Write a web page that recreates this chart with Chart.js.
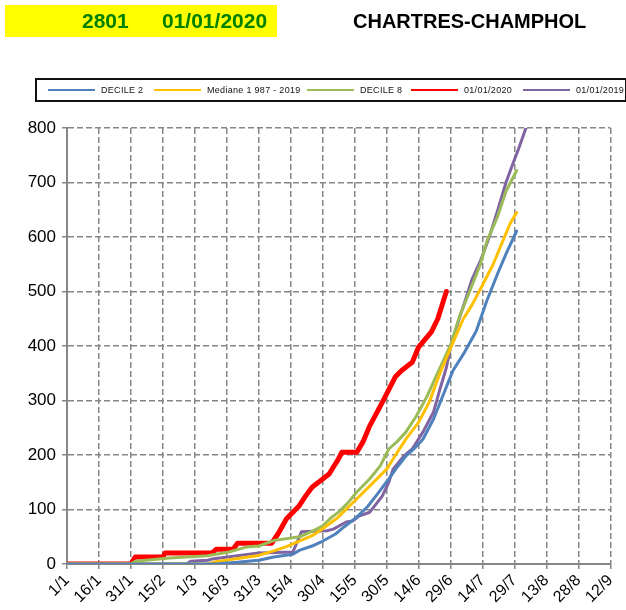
<!DOCTYPE html>
<html>
<head>
<meta charset="utf-8">
<script src="https://cdn.jsdelivr.net/npm/chart.js@4.4.1/dist/chart.umd.min.js"></script>
<style>
    body { margin: 0; background: #fff; font-family: "Liberation Sans", Arial, sans-serif; }
    #page { position: relative; width: 626px; height: 610px; overflow: hidden; }
    #graphique { position: absolute; left: 0; top: 0; }
    #bandeau { position: absolute; left: 5px; top: 5px; width: 272px; height: 32px; background: #ffff00; }
    .titre { position: absolute; top: 5px; height: 32px; line-height: 32px; font-weight: bold; white-space: nowrap; }
    #legende { position: absolute; left: 35px; top: 78px; width: 592px; height: 24px; border: 2px solid #111; box-sizing: border-box; }
    .trait { position: absolute; height: 2px; top: 9px; }
    .libelle { position: absolute; top: 4px; font-size: 9px; line-height: 12px; letter-spacing: 0.3px; color: #111; white-space: nowrap; }
</style>
</head>
<body>
<div id="page">
    <canvas id="graphique" width="626" height="610"></canvas>
    <div id="bandeau"></div>
    <div class="titre" style="left:82px; font-size:21px; color:#008000;">2801</div>
    <div class="titre" style="left:162px; font-size:21px; color:#008000;">01/01/2020</div>
    <div class="titre" style="left:353px; font-size:20px; color:#000;">CHARTRES-CHAMPHOL</div>
    <div id="legende"></div>
</div>
<script>
// Etiquettes de l'axe des dates (tous les 15 jours)
const etiquettesDates = ["1/1", "16/1", "31/1", "15/2", "1/3", "16/3", "31/3", "15/4", "30/4",
    "15/5", "30/5", "14/6", "29/6", "14/7", "29/7", "13/8", "28/8", "12/9"];

// Noms et couleurs des séries
const nomsSeries = ["DECILE 2", "Mediane 1 987 - 2019", "DECILE 8", "01/01/2020", "01/01/2019"];
const couleursSeries = ["#4f81bd", "#ffc000", "#9bbb59", "#ff0000", "#8064a2"];

// DECILE 2 (jour depuis le 1/1, cumul)
const decile2Jours = [0, 70, 80, 90, 97, 106, 109, 115, 119, 126, 130, 136, 141, 145, 151, 155, 159, 163, 167, 172, 176, 181, 186, 192, 197, 202, 206, 211];
const decile2Valeurs = [0, 0, 3, 7, 13, 18, 25, 33, 40, 55, 68, 86, 105, 125, 156, 178, 198, 212, 229, 266, 305, 354, 385, 427, 483, 532, 569, 611];

// Mediane 1987 - 2019
const medianeJours = [0, 66, 70, 80, 89, 97, 103, 109, 115, 119, 127, 134, 142, 150, 155, 159, 165, 170, 175, 181, 186, 190, 195, 200, 204, 208, 211];
const medianeValeurs = [0, 0, 4, 10, 15, 24, 32, 42, 52, 62, 85, 112, 143, 174, 205, 229, 260, 297, 350, 405, 450, 475, 512, 550, 588, 625, 645];

// DECILE 8
const decile8Jours = [0, 30, 32, 48, 66, 76, 84, 90, 97, 104, 109, 115, 120, 124, 128, 132, 136, 142, 147, 151, 155, 159, 164, 169, 173, 176, 180, 184, 189, 194, 197, 202, 206, 211];
const decile8Valeurs = [0, 0, 5, 11, 15, 22, 31, 33, 43, 47, 50, 60, 70, 85, 97, 113, 132, 156, 180, 211, 225, 242, 272, 308, 343, 368, 402, 452, 501, 550, 592, 637, 684, 722];

// Année en cours 01/01/2020
const annee2020Jours = [0, 30, 32, 45, 46, 68, 70, 78, 80, 96, 99, 103, 106, 109, 112, 115, 118, 120, 123, 125, 127, 129, 136, 139, 142, 145, 148, 151, 154, 157, 159, 162, 165, 168, 171, 174, 176, 178];
const annee2020Valeurs = [0, 0, 13, 13, 20, 20, 27, 27, 38, 38, 55, 83, 95, 107, 125, 141, 150, 156, 165, 178, 190, 205, 205, 225, 253, 275, 297, 320, 343, 355, 361, 370, 398, 412, 426, 450, 475, 500];

// Année précédente 01/01/2019
const annee2019Jours = [0, 56, 58, 66, 68, 80, 90, 106, 108, 110, 122, 125, 131, 134, 137, 142, 145, 148, 151, 153, 158, 162, 167, 172, 175, 178, 180, 184, 187, 190, 194, 198, 202, 206, 209, 212, 216];
const annee2019Valeurs = [0, 0, 5, 7, 9, 15, 20, 22, 40, 59, 61, 64, 77, 79, 88, 95, 110, 125, 150, 174, 198, 211, 242, 279, 321, 360, 398, 450, 485, 522, 556, 598, 648, 700, 732, 763, 807];

const joursSeries = [decile2Jours, medianeJours, decile8Jours, annee2020Jours, annee2019Jours];
const valeursSeries = [decile2Valeurs, medianeValeurs, decile8Valeurs, annee2020Valeurs, annee2019Valeurs];
const epaisseursSeries = [3, 3, 3, 5, 3];

// Légende positionnée comme dans l'original
const legendeTraits = [11, 117, 270, 374, 486];
const legende = document.getElementById("legende");
nomsSeries.forEach((nom, i) => {
    const trait = document.createElement("span");
    trait.className = "trait";
    trait.style.left = legendeTraits[i] + "px";
    trait.style.width = "47px";
    trait.style.background = couleursSeries[i];
    legende.appendChild(trait);
    const libelle = document.createElement("span");
    libelle.className = "libelle";
    libelle.style.left = (legendeTraits[i] + 53) + "px";
    libelle.textContent = nom;
    legende.appendChild(libelle);
});

const datasets = nomsSeries.map((nom, i) => ({
    label: nom,
    data: joursSeries[i].map((j, k) => ({ x: j, y: valeursSeries[i][k] })),
    borderColor: couleursSeries[i],
    backgroundColor: couleursSeries[i],
    borderWidth: epaisseursSeries[i],
    pointRadius: 0,
    tension: 0,
    borderJoinStyle: "round",
    borderCapStyle: "round",
    fill: false
}));

const grisAxe = "#868686";

new Chart(document.getElementById("graphique").getContext("2d"), {
    type: "line",
    data: { datasets: datasets },
    options: {
        responsive: false,
        animation: false,
        layout: { padding: { left: 0, top: 128, right: 15, bottom: 0 } },
        plugins: { legend: { display: false }, tooltip: { enabled: false } },
        scales: {
            x: {
                type: "linear",
                min: 0,
                max: 255,
                afterFit: function(scale) { scale.height = 46; },
                afterBuildTicks: function(scale) {
                    scale.ticks = etiquettesDates.map((e, i) => ({ value: i * 15 }));
                },
                ticks: {
                    autoSkip: false,
                    maxRotation: 45,
                    minRotation: 45,
                    padding: 2,
                    color: "#000",
                    font: { family: "'Liberation Sans', Arial, sans-serif", size: 16 },
                    callback: function(value, index) { return etiquettesDates[index]; }
                },
                grid: { color: grisAxe, lineWidth: 1.5, tickLength: 5, tickColor: grisAxe },
                border: { color: grisAxe, width: 2, dash: [6, 3] }
            },
            y: {
                min: 0,
                max: 800,
                afterFit: function(scale) { scale.width = 67; },
                ticks: {
                    stepSize: 100,
                    padding: 6,
                    color: "#000",
                    font: { family: "'Liberation Sans', Arial, sans-serif", size: 17 }
                },
                grid: { color: grisAxe, lineWidth: 1.5, tickLength: 5, tickColor: grisAxe },
                border: { color: grisAxe, width: 2, dash: [6, 3] }
            }
        }
    }
});
</script>
</body>
</html>
